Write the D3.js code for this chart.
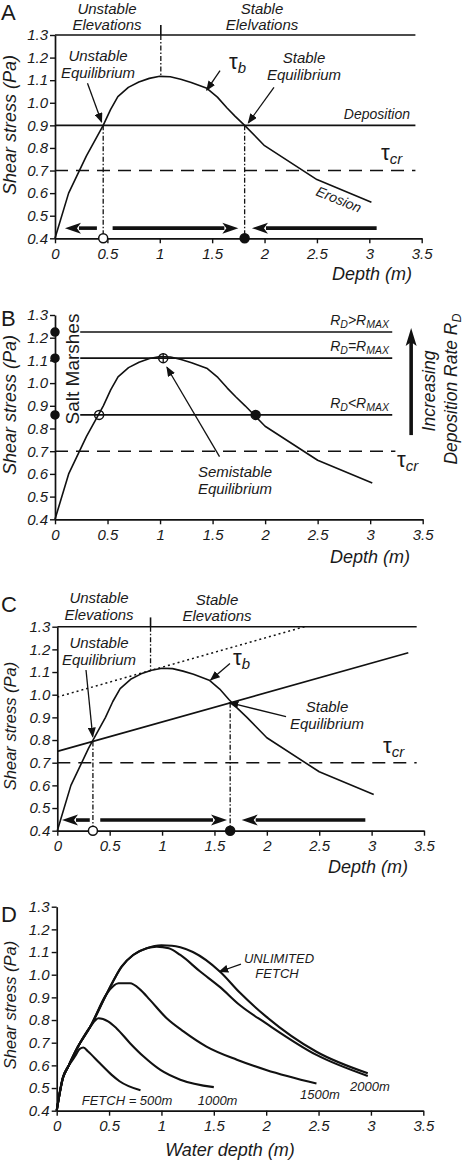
<!DOCTYPE html>
<html><head><meta charset="utf-8">
<script src="https://cdn.jsdelivr.net/npm/d3@7"></script>
<style>
body{margin:0;background:#fff}
svg{display:block}
text{font-family:"Liberation Sans",Arial,sans-serif;fill:#1a1a1a}
</style></head><body>
<svg id="c" width="465" height="1163"></svg>
<script>
// ---------- data ----------
const depthTicks = [0, 0.5, 1, 1.5, 2, 2.5, 3, 3.5];
const stressTicks = [0.4, 0.5, 0.6, 0.7, 0.8, 0.9, 1.0, 1.1, 1.2, 1.3];

// bed shear stress tau_b vs depth (panels A-C)
const tauDepth  = [0, 0.13, 0.3, 0.46, 0.53, 0.6, 0.7, 0.8, 0.9, 1.0, 1.1, 1.2, 1.3, 1.45, 1.55, 1.64, 1.72, 1.81, 2.0, 2.5, 3.02];
const tauStress = [0.4, 0.6, 0.765, 0.9, 0.97, 1.027, 1.068, 1.092, 1.108, 1.117, 1.115, 1.104, 1.09, 1.064, 1.025, 0.978, 0.94, 0.9, 0.81, 0.66, 0.56];

const tauCritical = 0.7;
const depositionA = 0.9;
const topLevel = 1.3;
const equilibriaA = [0.46, 1.81];          // unstable, stable
const rateLevelsB = [1.225, 1.11, 0.86];    // RD>RMAX, RD=RMAX, RD<RMAX
const rateLabelsB = [">", "=", "<"];
const openPointsB = [[0.42, 0.86]];
const filledPointsB = [[1.91, 0.86]];
const semiPointB = [1.03, 1.11];
const lineC = {d0: 0, s0: 0.75, d1: 3.35, s1: 1.185};
const dottedC = {d0: 0, s0: 0.99, d1: 2.36, s1: 1.3};
const equilibriaC = [0.34, 1.65];
const equilibriaCStress = [0.794, 0.965];

// panel D fetch curves
const f500Depth   = [0, 0.057, 0.11, 0.175, 0.22, 0.255, 0.3, 0.41, 0.525, 0.6, 0.8];
const f500Stress  = [0.4, 0.544, 0.595, 0.64, 0.673, 0.679, 0.661, 0.61, 0.558, 0.53, 0.49];
const f1000Depth  = [0, 0.06, 0.11, 0.2, 0.32, 0.4, 0.49, 0.57, 0.7, 0.83, 0.99, 1.18, 1.5];
const f1000Stress = [0.4, 0.545, 0.595, 0.68, 0.77, 0.808, 0.794, 0.764, 0.698, 0.639, 0.58, 0.537, 0.504];
const f1500Depth  = [0, 0.06, 0.11, 0.2, 0.32, 0.48, 0.59, 0.7, 0.8, 0.89, 1.05, 1.21, 1.43, 1.72, 2.0, 2.48];
const f1500Stress = [0.4, 0.545, 0.595, 0.68, 0.77, 0.918, 0.962, 0.962, 0.933, 0.889, 0.808, 0.75, 0.683, 0.625, 0.58, 0.52];
const f2000Depth  = [0, 0.06, 0.11, 0.2, 0.32, 0.48, 0.62, 0.73, 0.86, 0.955, 1.07, 1.18, 1.37, 1.56, 1.75, 2.0, 2.48, 2.97];
const f2000Stress = [0.4, 0.545, 0.595, 0.68, 0.77, 0.918, 1.036, 1.087, 1.117, 1.124, 1.117, 1.087, 1.014, 0.945, 0.865, 0.785, 0.646, 0.553];
const fUnlDepth   = [0, 0.06, 0.11, 0.2, 0.32, 0.48, 0.62, 0.73, 0.86, 1.0, 1.1, 1.18, 1.3, 1.56, 1.75, 2.0, 2.48, 2.97];
const fUnlStress  = [0.4, 0.545, 0.595, 0.68, 0.77, 0.918, 1.036, 1.087, 1.117, 1.13, 1.128, 1.121, 1.1, 1.013, 0.92, 0.815, 0.66, 0.565];

// ---------- drawing ----------
const svg = d3.select("#c");
const INK = "#111";
const defs = svg.append("defs");
defs.append("marker").attr("id", "ah").attr("markerUnits", "userSpaceOnUse")
  .attr("markerWidth", 10).attr("markerHeight", 8).attr("refX", 9).attr("refY", 4)
  .attr("orient", "auto").append("path").attr("d", "M0,0L10,4L0,8Z").attr("fill", INK);

function makePanel(l, r, b, t) {
  return {
    x: d3.scaleLinear().domain([0, 3.5]).range([l, r]),
    y: d3.scaleLinear().domain([0.4, 1.3]).range([b, t])
  };
}
function axes(P) {
  const gy = svg.append("g").attr("transform", `translate(${P.x(0)},0)`)
    .call(d3.axisLeft(P.y).tickValues(stressTicks).tickFormat(d3.format(".1f")).tickSize(5).tickSizeOuter(0).tickPadding(2));
  const gx = svg.append("g").attr("transform", `translate(0,${P.y(0.4)})`)
    .call(d3.axisBottom(P.x).tickValues(depthTicks).tickFormat(d3.format("")).tickSize(5).tickSizeOuter(0).tickPadding(5));
  [gy, gx].forEach(g => {
    g.select(".domain").attr("stroke", INK).attr("stroke-width", 1.7);
    g.selectAll(".tick line").attr("stroke", INK).attr("stroke-width", 1.4);
    g.selectAll("text").attr("font-size", 15).attr("font-style", "italic")
      .attr("font-family", "Liberation Sans, Arial, sans-serif").attr("fill", "#222");
  });
}
function txt(x, y, s, o = {}) {
  const t = svg.append("text").attr("x", x).attr("y", y).text(s)
    .attr("font-size", o.fs || 15).attr("font-style", o.it === false ? "normal" : "italic")
    .attr("text-anchor", o.a || "middle");
  if (o.rot !== undefined) t.attr("transform", `rotate(${o.rot},${x},${y})`);
  return t;
}
function hline(P, s, d0, d1, o = {}) {
  svg.append("line").attr("x1", P.x(d0)).attr("x2", P.x(d1)).attr("y1", P.y(s)).attr("y2", P.y(s))
    .attr("stroke", INK).attr("stroke-width", o.w || 1.6).attr("stroke-dasharray", o.dash || null);
}
function seg(P, d0, s0, d1, s1, o = {}) {
  return svg.append("line").attr("x1", P.x(d0)).attr("y1", P.y(s0)).attr("x2", P.x(d1)).attr("y2", P.y(s1))
    .attr("stroke", INK).attr("stroke-width", o.w || 1.6).attr("stroke-dasharray", o.dash || null);
}
function thinArrow(P, d0, s0, d1, s1) {
  seg(P, d0, s0, d1, s1, {w: 1.3}).attr("marker-end", "url(#ah)");
}
function thickArrow(P, s, dTail, dTip) {
  const y = P.y(s), x0 = P.x(dTail), x1 = P.x(dTip);
  const dir = Math.sign(x1 - x0), hl = 16, hw = 5.5;
  svg.append("line").attr("x1", x0).attr("x2", x1 - dir * (hl - 2)).attr("y1", y).attr("y2", y)
    .attr("stroke", INK).attr("stroke-width", 3.6);
  svg.append("path").attr("d", `M${x1},${y}L${x1 - dir * hl},${y - hw}L${x1 - dir * (hl - 4)},${y}L${x1 - dir * hl},${y + hw}Z`).attr("fill", INK);
}
function curve(P, xs, ys, w, c) {
  const pts = xs.map((d, i) => [d, ys[i]]);
  svg.append("path").datum(pts)
    .attr("d", d3.line().x(d => P.x(d[0])).y(d => P.y(d[1])).curve(c || d3.curveLinear))
    .attr("fill", "none").attr("stroke", INK).attr("stroke-width", w).attr("stroke-linejoin", "round");
}
function dot(P, d, s, filled, r = 4.5) {
  svg.append("circle").attr("cx", P.x(d)).attr("cy", P.y(s)).attr("r", r)
    .attr("fill", filled ? INK : (filled === null ? "none" : "#fff")).attr("stroke", INK).attr("stroke-width", 1.5);
}
function tau(x, y, sub, fs = 22) {
  const t = svg.append("text").attr("x", x).attr("y", y).attr("font-size", fs).attr("text-anchor", "start");
  t.append("tspan").text("τ").attr("font-style", "normal");
  t.append("tspan").text(sub).attr("font-style", "italic").attr("font-size", 15).attr("dy", 4);
}
const DASHDOT = "5,2,1.5,2";
const DASH = "13,8";

// ===== Panel A =====
const A = makePanel(55, 421.7, 238.3, 35);
hline(A, topLevel, 0, 3.44);
hline(A, depositionA, 0, 3.44);
hline(A, tauCritical, 0, 3.44, {dash: DASH});
seg(A, 1.01, 1.344, 1.01, 1.3, {w: 1.6});
seg(A, 1.01, 1.3, 1.01, 1.118, {w: 1.3, dash: DASHDOT});
equilibriaA.forEach(d => seg(A, d, depositionA, d, 0.4, {w: 1.3, dash: DASHDOT}));
curve(A, tauDepth, tauStress, 1.6);
axes(A);
thickArrow(A, 0.445, 0.4, 0.095);
thickArrow(A, 0.445, 0.55, 1.75);
thickArrow(A, 0.445, 3.07, 1.88);
dot(A, equilibriaA[0], 0.4, false);
dot(A, equilibriaA[1], 0.4, true);
thinArrow(A, 0.31, 1.086, 0.445, 0.915);
thinArrow(A, 1.575, 1.142, 1.448, 1.056);
thinArrow(A, 2.09, 1.068, 1.845, 0.911);
txt(1, 20, "A", {fs: 22, it: false, a: "start"});
txt(107, 14, "Unstable"); txt(107, 30, "Elevations");
txt(262, 14, "Stable"); txt(262, 30, "Elelvations");
txt(98, 60.5, "Unstable"); txt(98, 77.5, "Equilibrium");
txt(304, 62.5, "Stable"); txt(304, 80, "Equilibrium");
tau(229, 69, "b");
txt(410, 119, "Deposition", {fs: 14, a: "end"});
tau(381, 160, "cr");
txt(337, 204, "Erosion", {fs: 14, rot: 22});
txt(372, 280, "Depth (m)", {fs: 18});
txt(16, 125, "Shear stress (Pa)", {fs: 18, rot: -90});

// ===== Panel B =====
const B = makePanel(55, 422.7, 519.3, 315);
rateLevelsB.forEach(s => hline(B, s, 0.24, 3.21));
hline(B, tauCritical, 0, 3.24, {dash: DASH});
curve(B, tauDepth, tauStress, 1.6);
axes(B);
rateLevelsB.forEach(s => dot(B, 0, s, true, 4));
openPointsB.forEach(p => dot(B, p[0], p[1], null));
filledPointsB.forEach(p => dot(B, p[0], p[1], true));
dot(B, semiPointB[0], semiPointB[1], null);
seg(B, semiPointB[0], semiPointB[1] + 0.02, semiPointB[0], semiPointB[1] - 0.02, {w: 1.3});
thinArrow(B, 1.566, 0.676, 1.065, 1.07);
// big upward arrow
(function () {
  const x = B.x(3.39), y0 = B.y(0.771), y1 = B.y(1.243);
  svg.append("line").attr("x1", x).attr("x2", x).attr("y1", y0).attr("y2", y1 + 14).attr("stroke", INK).attr("stroke-width", 3.6);
  svg.append("path").attr("d", `M${x},${y1}L${x - 5.5},${y1 + 18}L${x},${y1 + 14}L${x + 5.5},${y1 + 18}Z`).attr("fill", INK);
})();
rateLevelsB.forEach((s, i) => {
  const t = svg.append("text").attr("x", 389).attr("y", B.y(s) - 7).attr("text-anchor", "end")
    .attr("font-size", 14).attr("font-style", "italic");
  t.append("tspan").text("R");
  t.append("tspan").text("D").attr("font-size", 10.5).attr("dy", 3);
  t.append("tspan").text(rateLabelsB[i]).attr("dy", -3);
  t.append("tspan").text("R");
  t.append("tspan").text("MAX").attr("font-size", 10.5).attr("dy", 3);
});
txt(1, 326, "B", {fs: 22, it: false, a: "start"});
txt(16, 405, "Shear stress (Pa)", {fs: 18, rot: -90});
txt(79, 369, "Salt Marshes", {fs: 19, it: false, rot: -90});
txt(435, 391, "Increasing", {fs: 17.5, rot: -90});
(function () {
  const t = svg.append("text").attr("x", 457).attr("y", 389).attr("text-anchor", "middle")
    .attr("font-size", 17.5).attr("font-style", "italic").attr("transform", "rotate(-90,457,389)");
  t.append("tspan").text("Deposition Rate R");
  t.append("tspan").text("D").attr("font-size", 12.5).attr("dy", 4);
})();
tau(397, 467, "cr");
txt(235, 476.7, "Semistable"); txt(235, 494, "Equilibrium");
txt(370, 563, "Depth (m)", {fs: 18});

// ===== Panel C =====
const C = makePanel(57.3, 424, 830.7, 626.7);
hline(C, topLevel, 0, 3.43);
hline(C, tauCritical, 0, 3.43, {dash: DASH});
seg(C, lineC.d0, lineC.s0, lineC.d1, lineC.s1, {w: 1.6});
seg(C, dottedC.d0, dottedC.s0, dottedC.d1, dottedC.s1, {w: 1.5, dash: "2,3"});
seg(C, 0.89, 1.341, 0.89, 1.3, {w: 1.6});
seg(C, 0.89, 1.3, 0.89, 1.11, {w: 1.3, dash: DASHDOT});
equilibriaC.forEach((d, i) => seg(C, d, equilibriaCStress[i], d, 0.4, {w: 1.3, dash: DASHDOT}));
curve(C, tauDepth, tauStress, 1.6);
axes(C);
thickArrow(C, 0.447, 0.31, 0.045);
thickArrow(C, 0.447, 0.41, 1.62);
thickArrow(C, 0.447, 2.94, 1.76);
dot(C, equilibriaC[0], 0.4, false);
dot(C, equilibriaC[1], 0.4, true);
thinArrow(C, 0.274, 1.109, 0.338, 0.815);
thinArrow(C, 1.648, 1.138, 1.464, 1.065);
thinArrow(C, 2.183, 0.903, 1.642, 0.965);
txt(1, 612, "C", {fs: 22, it: false, a: "start"});
txt(99, 603, "Unstable"); txt(99, 620, "Elevations");
txt(217, 605, "Stable"); txt(217, 621, "Elevations");
txt(99, 648, "Unstable"); txt(99, 665, "Equilibrium");
txt(327, 711.5, "Stable"); txt(327, 729, "Equilibrium");
tau(233, 665, "b");
tau(383, 753, "cr");
txt(368, 873, "Depth (m)", {fs: 18});
txt(16, 726, "Shear stress (Pa)", {fs: 16.5, rot: -90});

// ===== Panel D =====
const D = makePanel(56.7, 423.3, 1110.7, 906.7);
axes(D);
const mono = d3.curveMonotoneX;
curve(D, f500Depth, f500Stress, 2.1, mono);
curve(D, f1000Depth, f1000Stress, 2.1, mono);
curve(D, f1500Depth, f1500Stress, 2.1, mono);
curve(D, f2000Depth, f2000Stress, 2.1, mono);
curve(D, fUnlDepth, fUnlStress, 2.1, mono);
thinArrow(D, 1.759, 1.047, 1.552, 1.013);
txt(1, 922, "D", {fs: 22, it: false, a: "start"});
txt(279, 963.3, "UNLIMITED", {fs: 13});
txt(277, 978.3, "FETCH", {fs: 13});
txt(81.7, 1105, "FETCH = 500m", {fs: 13, a: "start"});
txt(197.7, 1105, "1000m", {fs: 13, a: "start"});
txt(300, 1099, "1500m", {fs: 13, a: "start"});
txt(350, 1091, "2000m", {fs: 13, a: "start"});
txt(230, 1156, "Water depth (m)", {fs: 18});
txt(16, 1005, "Shear stress (Pa)", {fs: 16.5, rot: -90});
</script>
</body></html>
